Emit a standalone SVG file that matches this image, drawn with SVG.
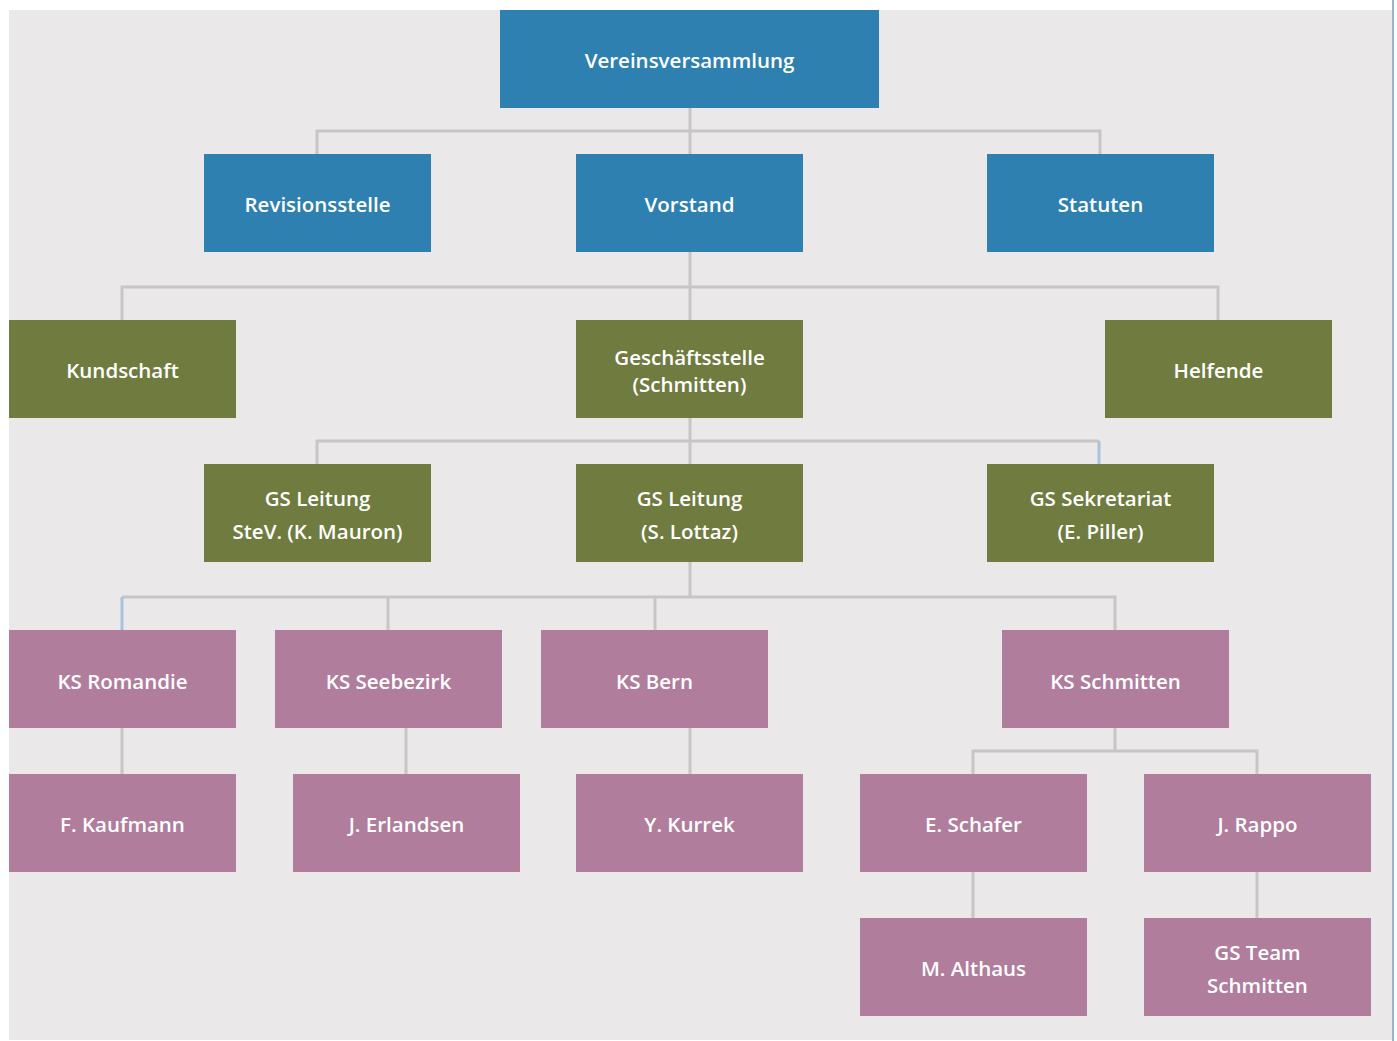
<svg xmlns="http://www.w3.org/2000/svg" width="1397" height="1041" viewBox="0 0 1397 1041">
<style>
.blue{fill:#2E80B1}
.green{fill:#6F7B3F}
.pink{fill:#B07D9C}
.t{font-family:"Open Sans","Noto Sans","Liberation Sans",sans-serif;font-weight:600;font-size:20.5px;fill:#FFFFFF;text-anchor:middle}
.c{stroke:#C9C5C6;stroke-width:3;fill:none}
.cb{stroke:#A9C3DC;stroke-width:3;fill:none}
</style>
<rect x="0" y="0" width="1397" height="1041" fill="#FFFFFF"/>
<rect x="9" y="10" width="1383" height="1030" fill="#EBE8E9"/>
<line x1="1393" y1="0" x2="1393" y2="1041" stroke="#6E9CC6" stroke-width="1.5"/>
<g id="connectors">
<path class="c" d="M690 108V154M317 154V131H1100V154"/>
<path class="c" d="M690 252V320M122 320V287H1218V320"/>
<path class="c" d="M690 418V464M317 464V441H1099"/>
<path class="cb" d="M1099 441V464"/>
<path class="c" d="M690 562V597M122 597H1115V630M388 597V630M655 597V630"/>
<path class="cb" d="M122 597V630"/>
<path class="c" d="M122 728V774M406 728V774M690 728V774"/>
<path class="c" d="M1115 728V751M973 774V751H1257V774"/>
<path class="c" d="M973 872V918M1257 872V918"/>
</g>
<g id="vereinsversammlung"><rect class="blue" x="500" y="10" width="379" height="98"/><text class="t" x="689.5" y="68">Vereinsversammlung</text></g>
<g id="revisionsstelle"><rect class="blue" x="204" y="154" width="227" height="98"/><text class="t" x="317.5" y="212">Revisionsstelle</text></g>
<g id="vorstand"><rect class="blue" x="576" y="154" width="227" height="98"/><text class="t" x="689.5" y="212">Vorstand</text></g>
<g id="statuten"><rect class="blue" x="987" y="154" width="227" height="98"/><text class="t" x="1100.5" y="212">Statuten</text></g>
<g id="kundschaft"><rect class="green" x="9" y="320" width="227" height="98"/><text class="t" x="122.5" y="378">Kundschaft</text></g>
<g id="geschaeftsstelle"><rect class="green" x="576" y="320" width="227" height="98"/><text class="t" x="689.5" y="365">Geschäftsstelle</text><text class="t" x="689.5" y="392">(Schmitten)</text></g>
<g id="helfende"><rect class="green" x="1105" y="320" width="227" height="98"/><text class="t" x="1218.5" y="378">Helfende</text></g>
<g id="gs-leitung-stev"><rect class="green" x="204" y="464" width="227" height="98"/><text class="t" x="317.5" y="506">GS Leitung</text><text class="t" x="317.5" y="539">SteV. (K. Mauron)</text></g>
<g id="gs-leitung"><rect class="green" x="576" y="464" width="227" height="98"/><text class="t" x="689.5" y="506">GS Leitung</text><text class="t" x="689.5" y="539">(S. Lottaz)</text></g>
<g id="gs-sekretariat"><rect class="green" x="987" y="464" width="227" height="98"/><text class="t" x="1100.5" y="506">GS Sekretariat</text><text class="t" x="1100.5" y="539">(E. Piller)</text></g>
<g id="ks-romandie"><rect class="pink" x="9" y="630" width="227" height="98"/><text class="t" x="122.5" y="689">KS Romandie</text></g>
<g id="ks-seebezirk"><rect class="pink" x="275" y="630" width="227" height="98"/><text class="t" x="388.5" y="689">KS Seebezirk</text></g>
<g id="ks-bern"><rect class="pink" x="541" y="630" width="227" height="98"/><text class="t" x="654.5" y="689">KS Bern</text></g>
<g id="ks-schmitten"><rect class="pink" x="1002" y="630" width="227" height="98"/><text class="t" x="1115.5" y="689">KS Schmitten</text></g>
<g id="f-kaufmann"><rect class="pink" x="9" y="774" width="227" height="98"/><text class="t" x="122.5" y="832">F. Kaufmann</text></g>
<g id="j-erlandsen"><rect class="pink" x="293" y="774" width="227" height="98"/><text class="t" x="406.5" y="832">J. Erlandsen</text></g>
<g id="y-kurrek"><rect class="pink" x="576" y="774" width="227" height="98"/><text class="t" x="689.5" y="832">Y. Kurrek</text></g>
<g id="e-schafer"><rect class="pink" x="860" y="774" width="227" height="98"/><text class="t" x="973.5" y="832">E. Schafer</text></g>
<g id="j-rappo"><rect class="pink" x="1144" y="774" width="227" height="98"/><text class="t" x="1257.5" y="832">J. Rappo</text></g>
<g id="m-althaus"><rect class="pink" x="860" y="918" width="227" height="98"/><text class="t" x="973.5" y="976">M. Althaus</text></g>
<g id="gs-team-schmitten"><rect class="pink" x="1144" y="918" width="227" height="98"/><text class="t" x="1257.5" y="960">GS Team</text><text class="t" x="1257.5" y="993">Schmitten</text></g>
</svg>
